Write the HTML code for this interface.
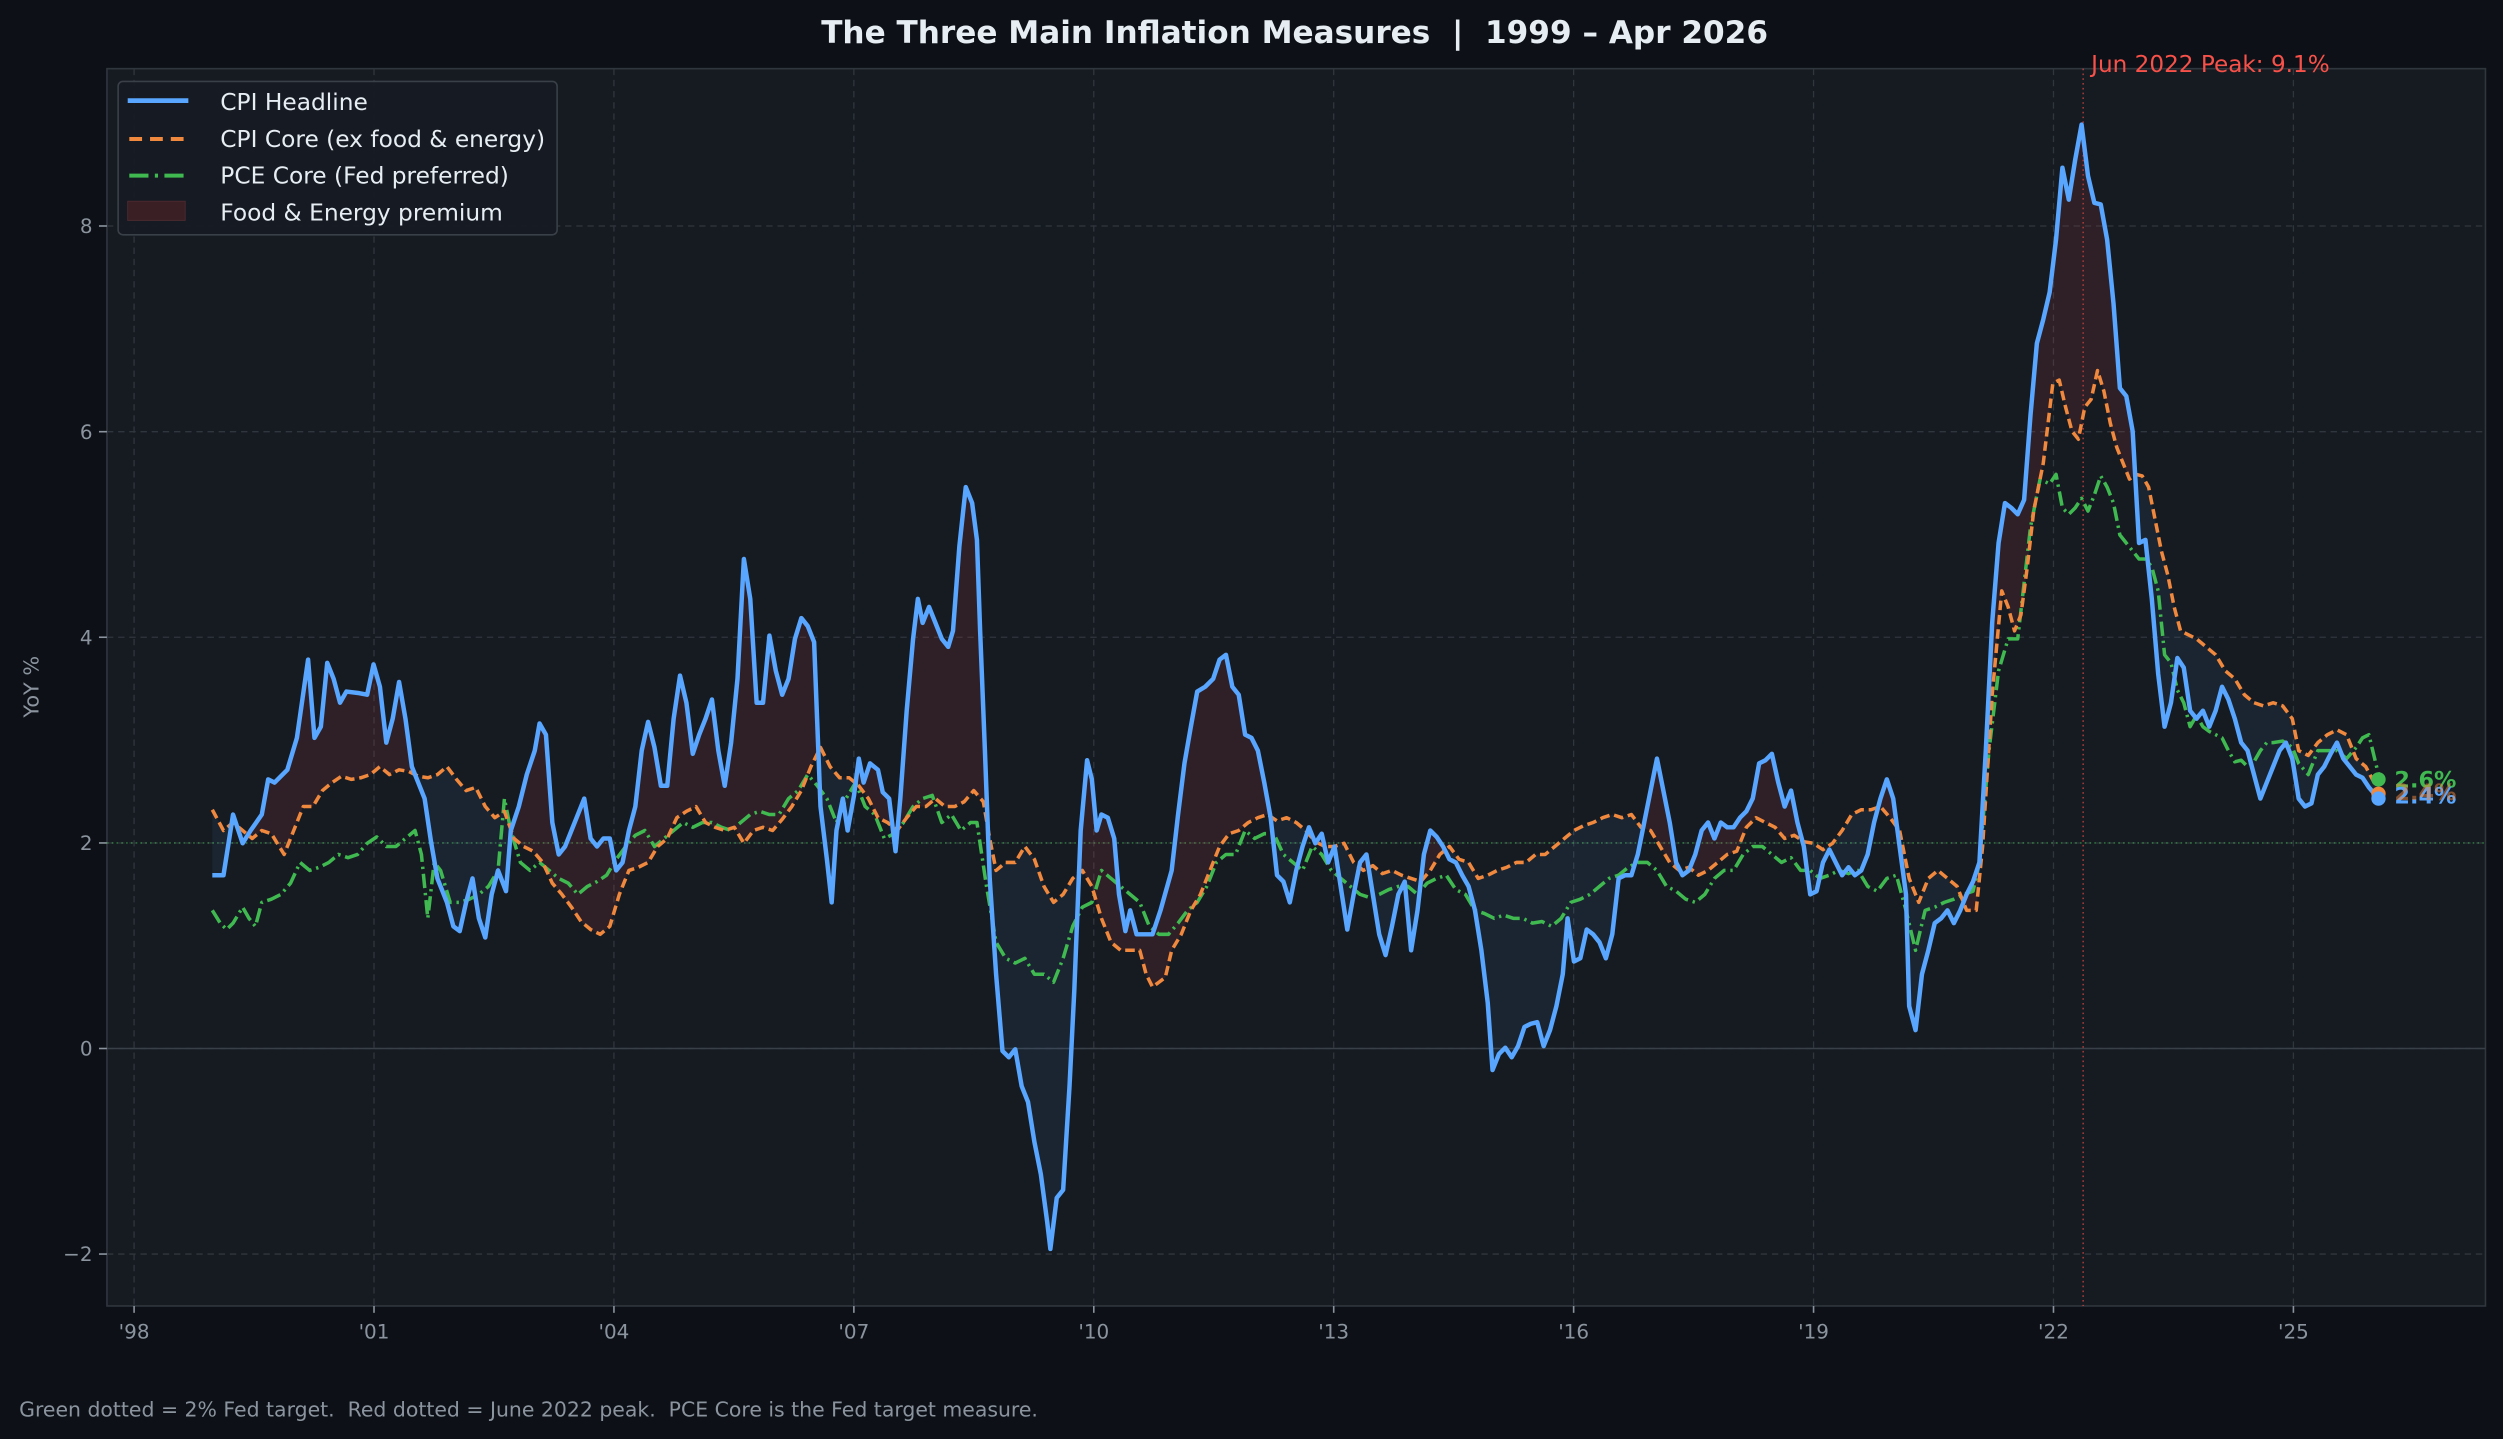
<!DOCTYPE html>
<html><head><meta charset="utf-8"><style>
html,body{margin:0;padding:0;background:#0d1117;}
svg{display:block;}
text{font-family:"DejaVu Sans","Liberation Sans",sans-serif;white-space:pre;}
</style></head><body>
<svg id="s" width="2503" height="1439" viewBox="0 0 1568 901" preserveAspectRatio="none" xmlns="http://www.w3.org/2000/svg" xml:space="preserve">
<rect x="0" y="0" width="1568" height="901" fill="#0d1117"/>
<rect x="67" y="43" width="1490" height="774.7" fill="#161b22" stroke="#30363d" stroke-width="1"/>
<g id="grid" stroke="#30363d" stroke-width="0.8" stroke-dasharray="4,3"></g>
<g id="ticks" fill="#8b949e" font-size="12.5"></g>
<line x1="67" x2="1557" y1="656.5" y2="656.5" stroke="#3a4048" stroke-width="1"/>
<line x1="67" x2="1557" y1="527.8" y2="527.8" stroke="#3fb950" stroke-opacity="0.55" stroke-width="1" stroke-dasharray="1,2"/>
<line x1="1305" x2="1305" y1="43" y2="817.7" stroke="#f85149" stroke-opacity="0.6" stroke-width="1" stroke-dasharray="1,2"/>
<g id="fills"></g>
<g id="lines" fill="none" stroke-linejoin="round"></g>
<text x="811" y="27" text-anchor="middle" fill="#e6edf3" font-size="19.5" font-weight="bold">The Three Main Inflation Measures  |  1999 – Apr 2026</text>
<text x="1310" y="45" fill="#f85149" font-size="14.5">Jun 2022 Peak: 9.1%</text>
<text x="24" y="430" fill="#8b949e" font-size="13" text-anchor="middle" transform="rotate(-90 24 430)">YoY %</text>
<text x="12" y="887" fill="#8b949e" font-size="12.8">Green dotted = 2% Fed target.  Red dotted = June 2022 peak.  PCE Core is the Fed target measure.</text>
<rect x="74" y="51" width="275" height="96" rx="3" fill="#161b22" fill-opacity="0.9" stroke="#3a4048" stroke-width="1"/>
<line x1="80" x2="118" y1="63" y2="63" stroke="#58a6ff" stroke-width="3"/>
<line x1="81" x2="118" y1="87" y2="87" stroke="#f0883e" stroke-width="2.5" stroke-dasharray="8,5"/>
<line x1="81" x2="118" y1="110" y2="110" stroke="#3fb950" stroke-width="2.5" stroke-dasharray="12,4,2,4"/>
<rect x="80" y="126" width="36" height="12" fill="#3a1f25" stroke="#4a2a30" stroke-width="0.6"/>
<g fill="#e6edf3" font-size="14.6">
<text x="138" y="69">CPI Headline</text>
<text x="138" y="92">CPI Core (ex food &amp; energy)</text>
<text x="138" y="115">PCE Core (Fed preferred)</text>
<text x="138" y="138">Food &amp; Energy premium</text>
</g>
</svg>
<script>
const NS="http://www.w3.org/2000/svg";
function el(t,a,p){const e=document.createElementNS(NS,t);for(const k in a)e.setAttribute(k,a[k]);if(p)p.appendChild(e);return e;}
const grid=document.getElementById('grid'),ticks=document.getElementById('ticks');
const yv=[[-2,785.2],[0,656.5],[2,527.8],[4,399],[6,270.3],[8,141.5]];
yv.forEach(([v,y])=>{el('line',{x1:67,x2:1557,y1:y,y2:y},grid);el('line',{x1:62,x2:67,y1:y,y2:y,stroke:'#8b949e'},ticks);
const t=el('text',{x:58,y:y+4.5,'text-anchor':'end'},ticks);t.textContent=(v<0?'\u2212'+(-v):v);});
['98','01','04','07','10','13','16','19','22','25'].forEach((l,i)=>{const x=84+i*150.3;el('line',{x1:x,x2:x,y1:43,y2:817.7},grid);
el('line',{x1:x,x2:x,y1:817.7,y2:822,stroke:'#8b949e'},ticks);const t=el('text',{x:x,y:838,'text-anchor':'middle'},ticks);t.textContent="'"+l;});
const H=[133,548,140,548,146,510,152,528,157,520,164,510,168,488,172,490,180,482,186,462,193,413,197,462,201,455,205,415,209,425,213,440,217,433,225,434,230,435,234,416,238,430,242,465,246,450,250,427,254,450,258,480,262,490,266,500,270,527,274,550,280,565,284,580,288,583,292,565,296,550,300,575,304,587,308,560,312,545,317,558,320,520,325,505,330,485,335,470,338,453,342,460,346,515,350,535,354,530,358,520,362,510,366,500,370,525,374,530,378,525,382,525,386,545,390,540,394,520,398,505,402,470,406,452,410,468,414,492,418,492,422,450,426,423,430,440,434,472,438,460,442,450,446,438,450,470,454,492,458,465,462,425,466,350,470,375,474,440,478,440,482,398,486,420,490,435,494,425,498,400,502,387,506,392,510,402,514,505,518,538,521,565,524,520,528,500,531,520,535,498,538,475,541,490,545,478,550,482,553,496,557,500,561,533,564,500,568,445,572,400,575,375,578,390,582,380,586,390,590,400,594,405,597,395,601,342,605,305,609,315,612,338,614,395,617,470,620,550,624,610,628,658,632,662,636,657,640,680,644,690,648,715,652,735,656,765,658,782,662,750,666,745,670,680,673,620,677,520,681,476,684,488,687,520,690,510,694,512,698,525,701,560,705,583,708,570,712,585,718,585,722,585,727,570,734,545,738,510,742,478,746,455,750,433,755,430,760,425,764,413,768,410,772,430,776,435,780,460,784,462,788,470,792,490,796,512,800,548,804,552,808,565,812,545,816,530,820,518,824,528,828,522,832,540,836,530,840,556,844,582,848,560,852,540,856,535,860,560,864,585,868,598,872,580,876,560,880,552,884,595,888,570,892,535,896,520,900,524,904,530,908,538,912,540,916,548,920,555,924,570,928,595,932,628,935,670,939,660,943,656,947,662,951,655,955,643,959,641,963,640,967,655,971,645,975,630,979,610,982,575,986,602,990,600,994,582,998,585,1002,590,1006,600,1010,585,1014,550,1018,548,1022,548,1026,535,1030,515,1034,495,1038,475,1042,495,1046,515,1050,540,1054,548,1058,545,1062,535,1066,520,1070,515,1074,525,1078,515,1082,518,1086,518,1090,512,1094,508,1098,500,1102,478,1106,476,1110,472,1114,490,1118,505,1122,495,1126,515,1130,530,1134,560,1138,558,1142,540,1146,532,1150,540,1154,548,1158,543,1162,548,1166,545,1170,535,1174,515,1178,500,1182,488,1186,500,1190,530,1194,560,1196,630,1200,645,1204,610,1208,595,1212,578,1216,575,1220,570,1224,578,1228,570,1232,560,1236,552,1240,540,1244,470,1248,390,1252,340,1256,315,1260,318,1264,322,1268,313,1272,260,1276,215,1280,200,1284,183,1288,150,1292,105,1296,125,1300,100,1304,78,1308,110,1312,127,1316,128,1320,150,1324,190,1328,243,1332,248,1336,270,1340,340,1344,338,1348,375,1352,422,1356,455,1360,440,1364,412,1368,418,1372,445,1376,450,1380,445,1384,455,1388,445,1392,430,1396,438,1400,450,1404,465,1408,470,1412,485,1416,500,1420,490,1424,480,1428,470,1432,465,1436,475,1440,500,1444,505,1448,503,1452,485,1456,480,1460,472,1464,465,1468,475,1472,480,1476,485,1480,487,1484,493,1490,500];
const C=[133,507,140,520,146,515,152,520,158,525,164,520,170,522,178,535,184,520,190,505,196,505,202,495,208,490,214,486,220,488,226,487,232,485,238,480,244,485,250,482,256,483,262,486,268,487,274,485,280,480,286,488,292,495,298,493,304,505,310,512,316,508,322,525,328,530,334,533,340,540,346,553,352,560,358,568,364,577,370,582,376,585,382,580,388,560,394,545,400,543,406,540,412,530,418,525,424,512,430,508,436,505,442,515,448,518,454,520,460,518,466,528,472,520,478,518,484,520,490,513,496,505,502,495,508,480,514,468,520,480,526,487,532,487,538,492,544,500,550,512,556,515,562,520,568,512,574,505,580,505,586,500,592,505,598,505,604,502,610,495,616,502,620,525,624,545,630,540,636,540,642,530,648,538,654,555,660,565,666,560,672,550,678,545,684,555,690,575,696,590,702,595,708,595,714,595,718,610,722,618,726,615,730,612,734,595,740,585,746,570,752,560,758,545,764,530,770,522,776,520,782,515,788,512,794,510,800,514,806,512,812,515,818,520,824,527,830,530,836,530,842,528,848,540,854,545,860,542,866,547,872,545,878,548,884,550,890,552,896,545,902,535,908,530,914,538,920,540,926,550,932,548,938,545,944,543,950,540,956,540,962,535,968,535,974,530,980,525,986,520,992,517,998,515,1004,512,1010,510,1016,512,1022,510,1028,518,1034,520,1040,530,1046,540,1052,545,1058,543,1064,548,1070,545,1076,540,1082,535,1088,533,1094,518,1100,512,1106,515,1112,518,1118,525,1124,523,1130,527,1136,528,1142,532,1148,528,1154,520,1160,510,1166,507,1172,507,1178,505,1184,512,1190,520,1196,550,1202,565,1208,550,1214,545,1220,550,1226,555,1232,570,1238,570,1242,530,1248,435,1254,370,1258,380,1262,395,1266,385,1270,355,1274,320,1280,290,1286,240,1290,238,1294,255,1298,270,1302,275,1306,255,1310,250,1314,232,1318,245,1322,265,1326,280,1330,290,1334,300,1338,297,1342,298,1346,305,1350,325,1354,345,1358,360,1362,380,1366,395,1370,397,1376,400,1382,405,1388,410,1394,420,1400,425,1406,435,1412,440,1418,442,1424,440,1430,442,1436,450,1440,470,1446,473,1452,465,1458,460,1464,457,1470,460,1476,475,1482,480,1490,495];
const P=[133,570,138,578,142,582,146,578,152,568,156,575,160,580,164,565,170,563,176,560,182,553,188,540,194,545,200,543,206,540,212,535,218,537,224,535,230,528,236,524,242,530,248,530,254,525,260,520,264,535,268,575,272,540,276,545,282,565,288,565,294,563,300,560,306,555,312,545,316,500,320,520,326,540,332,545,338,540,344,545,350,550,356,553,362,560,368,555,374,552,380,548,386,538,392,530,398,523,404,520,410,530,416,525,422,520,428,515,434,518,440,515,446,515,452,518,458,520,464,515,470,510,476,508,482,510,488,510,494,500,500,495,506,485,512,492,518,500,524,515,530,500,536,490,542,505,548,510,554,525,560,522,566,515,572,505,578,500,584,498,590,515,596,510,602,520,608,515,612,515,618,555,624,590,630,600,636,603,642,600,648,610,654,610,660,615,666,600,672,580,678,568,684,565,690,545,696,550,702,555,708,560,714,565,720,580,726,585,732,585,738,578,744,570,750,565,756,555,762,540,768,535,774,535,780,520,786,525,792,522,798,522,804,535,810,540,816,545,822,530,828,535,834,545,840,550,846,555,852,560,858,562,864,560,870,557,876,555,882,555,888,560,894,553,900,550,906,548,912,557,918,560,924,570,930,572,936,575,942,573,948,575,954,575,960,578,966,577,972,580,978,575,984,565,990,563,996,560,1002,555,1008,550,1014,548,1020,543,1026,540,1032,540,1038,545,1044,555,1050,558,1056,563,1062,565,1068,560,1074,550,1080,545,1086,545,1092,535,1098,530,1104,530,1110,535,1116,540,1122,537,1128,545,1134,545,1140,550,1146,548,1152,545,1158,547,1164,545,1170,555,1176,558,1182,550,1188,548,1194,570,1200,595,1206,570,1212,568,1218,565,1224,563,1230,560,1236,558,1240,540,1246,470,1252,420,1258,400,1264,400,1268,365,1272,330,1278,300,1284,303,1288,297,1292,318,1296,322,1300,318,1304,312,1308,320,1312,310,1316,298,1320,305,1324,315,1328,335,1332,340,1336,345,1340,350,1344,350,1348,355,1352,370,1356,410,1360,415,1364,432,1368,440,1372,455,1376,448,1380,455,1384,458,1388,460,1392,462,1396,470,1400,477,1404,476,1408,480,1412,477,1416,470,1420,465,1424,465,1430,464,1436,468,1440,478,1446,485,1452,470,1458,470,1464,470,1470,475,1476,468,1480,462,1484,460,1490,485];
function interp(a,x){for(let i=0;i<a.length-2;i+=2){if(x>=a[i]&&x<=a[i+2]){const t=(x-a[i])/((a[i+2]-a[i])||1);return a[i+1]+t*(a[i+3]-a[i+1]);}}return a[a.length-1];}
let red='',blue='';
for(let x=133;x<1490;x+=1){const x2=x+1;const h1=interp(H,x),h2=interp(H,x2),c1=interp(C,x),c2=interp(C,x2);
const q=`M${x},${h1}L${x2},${h2}L${x2},${c2}L${x},${c1}Z`;
if((h1+h2)<(c1+c2))red+=q;else blue+=q;}
const fills=document.getElementById('fills');
el('path',{d:red,fill:'#b43c46','fill-opacity':'0.16'},fills);
el('path',{d:blue,fill:'#58a6ff','fill-opacity':'0.07'},fills);
function pts(a){let s='';for(let i=0;i<a.length;i+=2)s+=(i?'L':'M')+a[i]+','+a[i+1];return s;}
const L=document.getElementById('lines');
el('path',{d:pts(P),stroke:'#3fb950','stroke-width':2.2,'stroke-dasharray':'9,3,1.5,3'},L);
el('path',{d:pts(C),stroke:'#f0883e','stroke-width':2.2,'stroke-dasharray':'6,3'},L);
el('path',{d:pts(H),stroke:'#58a6ff','stroke-width':2.8},L);
el('circle',{cx:1490,cy:488,r:4.5,fill:'#3fb950'},L);
el('circle',{cx:1490,cy:497,r:4.5,fill:'#f0883e'},L);
el('circle',{cx:1490,cy:500,r:4.5,fill:'#58a6ff'},L);
const t1=el('text',{x:1500,y:493,fill:'#3fb950','font-size':14,'font-weight':'bold',stroke:'none'},L);t1.textContent='2.6%';
const t2=el('text',{x:1500,y:503,fill:'#58a6ff','font-size':14,'font-weight':'bold',stroke:'none'},L);t2.textContent='2.4%';
const t3=el('text',{x:1500,y:501,fill:'#f0883e','font-size':14,'font-weight':'bold',stroke:'none','fill-opacity':'0.5'},L);t3.textContent='2.4%';
</script>
</body></html>
